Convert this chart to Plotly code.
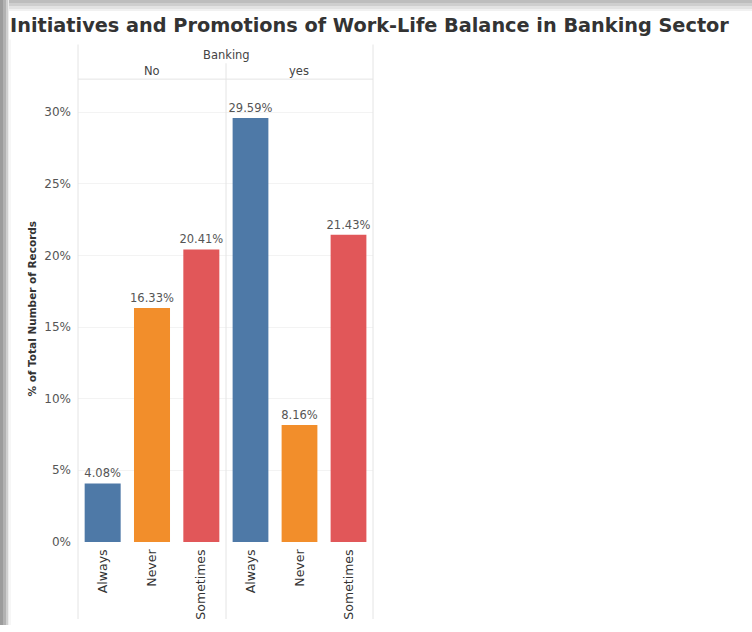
import plotly.graph_objects as go

# Percent of total records by response, split by Banking group
responses = ["Always", "Never", "Sometimes"]
pct_no = [4.08, 16.33, 20.41]
pct_yes = [29.59, 8.16, 21.43]
groups = ["No", "yes"]
colors = ["#4e79a7", "#f28e2b", "#e15759"]
y_ticks = [0, 5, 10, 15, 20, 25, 30]
y_tick_text = [f"{v}%" for v in y_ticks]

W, H = 752, 632
FONT = "DejaVu Sans"


def px(x):
    return x / W


def py(y):
    return 1 - y / H


fig = go.Figure()

for i, (vals, grp) in enumerate(zip([pct_no, pct_yes], groups)):
    sfx = "" if i == 0 else "2"
    fig.add_trace(go.Bar(
        x=responses, y=vals,
        marker=dict(color=colors, line=dict(width=0)),
        text=[f"{v:.2f}%" for v in vals],
        textposition="outside",
        constraintext="none",
        textfont=dict(family=FONT, size=11.5, color="#555555"),
        cliponaxis=False,
        xaxis="x" + sfx, yaxis="y" + sfx,
        showlegend=False,
        name=grp,
    ))

x_common = dict(
    type="category", tickangle=-90, showgrid=False, zeroline=False,
    showline=False, ticks="", ticklabelstandoff=4,
    tickfont=dict(family=FONT, size=12.5, color="#333333"),
)
y_common = dict(
    range=[0, 32.3], tickmode="array", tickvals=y_ticks, ticktext=y_tick_text,
    showgrid=True, gridcolor="#f3f3f3", gridwidth=1,
    zeroline=False, showline=False, ticks="",
    domain=[py(548), py(80)],
)

fig.update_layout(
    width=W, height=H,
    margin=dict(l=0, r=0, t=0, b=0),
    paper_bgcolor="white", plot_bgcolor="white",
    bargap=0.27,
    xaxis=dict(x_common, domain=[px(78), px(226)], anchor="y"),
    xaxis2=dict(x_common, domain=[px(226), px(373)], anchor="y2"),
    yaxis=dict(y_common, anchor="x",
               tickfont=dict(family=FONT, size=12, color="#555555"),
               ticklabelstandoff=6),
    yaxis2=dict(y_common, anchor="x2", matches="y", showticklabels=False),
)

shapes = []
# frame shading along the top and left edges
for y0, y1, c in [(0, 3, "#bdbdbd"), (3, 6, "#cecece"), (6, 9, "#e2e2e2"), (9, 11, "#f1f1f1")]:
    shapes.append(dict(type="rect", xref="paper", yref="paper",
                       x0=0, x1=1, y0=py(y1), y1=py(y0),
                       fillcolor=c, line=dict(width=0), layer="below"))
for x0, x1, c in [(0, 3, "#9c9c9c"), (3, 6, "#b2b2b2"), (6, 8, "#d0d0d0"), (8, 9, "#ececec")]:
    shapes.append(dict(type="rect", xref="paper", yref="paper",
                       x0=px(x0), x1=px(x1), y0=0, y1=py(0),
                       fillcolor=c, line=dict(width=0), layer="below"))
# pane separators and header rule
line_style = dict(color="#e4e4e4", width=1)
for xv, ytop in [(78, 45), (226, 64), (373, 45)]:
    shapes.append(dict(type="line", xref="paper", yref="paper",
                       x0=px(xv), x1=px(xv), y0=py(626), y1=py(ytop),
                       line=line_style))
shapes.append(dict(type="line", xref="paper", yref="paper",
                   x0=px(78), x1=px(373), y0=py(80), y1=py(80),
                   line=line_style))
shapes.append(dict(type="line", xref="paper", yref="paper",
                   x0=px(10), x1=px(10), y0=0, y1=py(40),
                   line=dict(color="#eeeeee", width=1)))
fig.update_layout(shapes=shapes)

annotations = [
    dict(text="<b>Initiatives and Promotions of Work-Life Balance in Banking Sector</b>",
         x=px(8), y=py(26), xanchor="left", yanchor="middle",
         font=dict(family=FONT, size=19.3, color="#333333")),
    dict(text="Banking", x=px(226), y=py(56),
         font=dict(family=FONT, size=11.5, color="#444444")),
    dict(text="No", x=px(152), y=py(72),
         font=dict(family=FONT, size=11.5, color="#444444")),
    dict(text="yes", x=px(299), y=py(72),
         font=dict(family=FONT, size=11.5, color="#444444")),
    dict(text="<b>% of Total Number of Records</b>", x=px(32), y=py(312),
         textangle=-90,
         font=dict(family=FONT, size=10.5, color="#333333")),
]
for a in annotations:
    a.update(xref="paper", yref="paper", showarrow=False)
    a.setdefault("xanchor", "center")
    a.setdefault("yanchor", "middle")
fig.update_layout(annotations=annotations)

fig.write_html("out.html")
